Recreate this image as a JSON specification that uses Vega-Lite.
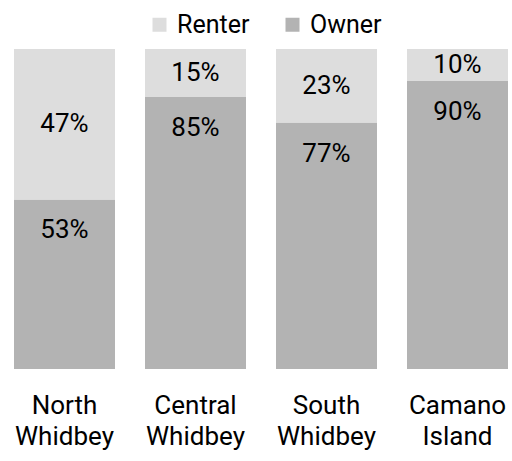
{
  "$schema": "https://vega.github.io/schema/vega-lite/v6.json",
  "width": 494,
  "height": 320,
  "autosize": {"type": "none"},
  "padding": {"left": 14, "top": 49, "right": 4, "bottom": 92},
  "config": {
    "view": {"stroke": null},
    "font": "Roboto",
    "text": {"font": "Roboto"}
  },
  "data": {
    "values": [
      {"region": "North Whidbey", "type": "Owner", "pct": 0.53},
      {"region": "North Whidbey", "type": "Renter", "pct": 0.47},
      {"region": "Central Whidbey", "type": "Owner", "pct": 0.85},
      {"region": "Central Whidbey", "type": "Renter", "pct": 0.15},
      {"region": "South Whidbey", "type": "Owner", "pct": 0.77},
      {"region": "South Whidbey", "type": "Renter", "pct": 0.23},
      {"region": "Camano Island", "type": "Owner", "pct": 0.90},
      {"region": "Camano Island", "type": "Renter", "pct": 0.10}
    ]
  },
  "transform": [
    {"stack": "pct", "groupby": ["region"], "sort": [{"field": "type", "order": "ascending"}], "as": ["v0", "v1"]}
  ],
  "encoding": {
    "x": {
      "field": "region", "type": "nominal", "sort": ["North Whidbey", "Central Whidbey", "South Whidbey", "Camano Island"],
      "scale": {"paddingInner": 0.229, "paddingOuter": 0},
      "axis": {
        "title": null, "labelAngle": 0, "ticks": false, "domain": false,
        "labelFontSize": 26, "labelColor": "#000000", "labelPadding": 23,
        "labelLineHeight": 31, "labelFont": "Roboto",
        "labelExpr": "split(datum.value, ' ')"
      }
    }
  },
  "layer": [
    {
      "mark": {"type": "bar"},
      "encoding": {
        "y": {"field": "v0", "type": "quantitative", "scale": {"domain": [0, 1], "nice": false}, "axis": null},
        "y2": {"field": "v1"},
        "color": {
          "field": "type", "type": "nominal",
          "scale": {"domain": ["Renter", "Owner"], "range": ["#dddddd", "#b3b3b3"]},
          "legend": {
            "title": null, "orient": "none", "direction": "horizontal",
            "legendX": 133, "legendY": -37,
            "symbolType": "square", "symbolSize": 196, "symbolStrokeWidth": 0,
            "labelFontSize": 25, "labelFont": "Roboto", "labelColor": "#000000",
            "labelOffset": 5, "columnPadding": 30
          }
        }
      }
    },
    {
      "transform": [{"filter": "datum.type == 'Owner'"}],
      "mark": {"type": "text", "baseline": "middle", "dy": 31, "fontSize": 26, "color": "#000000"},
      "encoding": {
        "y": {"field": "v1", "type": "quantitative"},
        "text": {"field": "pct", "type": "quantitative", "format": ".0%"}
      }
    },
    {
      "transform": [
        {"filter": "datum.type == 'Renter'"},
        {"fold": ["v0", "v1"], "as": ["edge", "pos"]},
        {"aggregate": [{"op": "mean", "field": "pos", "as": "mid"}], "groupby": ["region", "type", "pct"]}
      ],
      "mark": {"type": "text", "baseline": "middle", "fontSize": 26, "color": "#000000"},
      "encoding": {
        "y": {"field": "mid", "type": "quantitative"},
        "text": {"field": "pct", "type": "quantitative", "format": ".0%"}
      }
    }
  ]
}
